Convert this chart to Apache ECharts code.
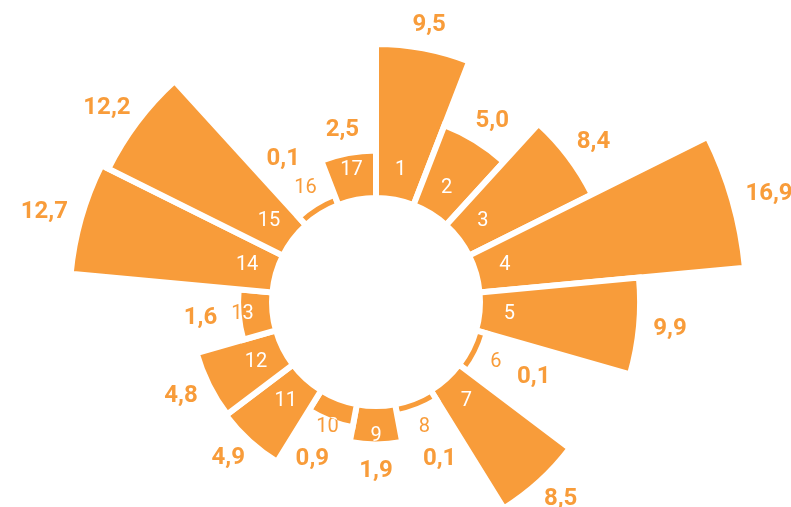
<!DOCTYPE html>
<html>
<head>
<meta charset="utf-8">
<script src="https://cdn.jsdelivr.net/npm/echarts@6/dist/echarts.min.js"></script>
<style>
html,body{margin:0;padding:0;background:#fff;}
#chart{width:791px;height:507px;}
</style>
</head>
<body>
<div id="chart"></div>
<script>
// ---- data ----
const categories = ['1','2','3','4','5','6','7','8','9','10','11','12','13','14','15','16','17'];
const values = [9.5, 5.0, 8.4, 16.9, 9.9, 0.1, 8.5, 0.1, 1.9, 0.9, 4.9, 4.8, 1.6, 12.7, 12.2, 0.1, 2.5];

// ---- style ----
const ORANGE = '#f89c3a';
const BORDER = 6;
const NUM_R = 134;
const PAD = 17.5;
const MIN_BASE = 142;
const NUM_FONT = '400 20px Roboto';
const VAL_FONT = '700 24px Roboto';

const ctx = document.createElement('canvas').getContext('2d');
function textWidth(t, font){ ctx.font = font; return ctx.measureText(t).width; }
function fmt(v){ return v.toFixed(1).replace('.', ','); }

const chart = echarts.init(document.getElementById('chart'), null, {renderer:'canvas'});
const maxV = Math.max.apply(null, values);

function geom(params, api){
  const v = api.value(0), i = api.value(1);
  const cs = params.coordSys;
  const cx = cs.cx, cy = cs.cy;
  const p = api.coord([v, i]);
  const dx = p[0]-cx, dy = p[1]-cy;
  const r = Math.hypot(dx, dy);
  const phi = Math.atan2(dy, dx);
  return {v:v, i:i, cx:cx, cy:cy, r0:cs.r0, r:r, phi:phi, hw:Math.PI/categories.length};
}

function renderBars(params, api){
  const g = geom(params, api);
  return {
    type:'sector',
    shape:{cx:g.cx, cy:g.cy, r0:g.r0, r:g.r, startAngle:g.phi-g.hw, endAngle:g.phi+g.hw, clockwise:true},
    style:{fill:ORANGE, stroke:'#ffffff', lineWidth:BORDER}
  };
}

function renderLabels(params, api){
  const g = geom(params, api);
  const cx = g.cx, cy = g.cy, phi = g.phi, hw = g.hw;
  const rOut = g.r - BORDER/2;
  const ux = Math.cos(phi), uy = Math.sin(phi);
  const r0v = g.r0 + BORDER/2;
  const nx = cx + NUM_R*ux, ny = cy + NUM_R*uy;
  const label = categories[g.i];
  const vt = fmt(values[g.i]);
  const halfW = textWidth(vt, VAL_FONT)/2, halfH = 9;
  const R = Math.max(rOut, MIN_BASE) + PAD;
  const lx = cx + R*ux + halfW*ux, ly = cy + R*uy + halfH*uy;
  return {
    type: 'group',
    children: [
      {type:'text', x:nx, y:ny, style:{text:label, font:NUM_FONT, fill:ORANGE, align:'center', verticalAlign:'middle'}},
      {type:'group', clipPath:{type:'sector', shape:{cx:cx, cy:cy, r0:r0v, r:rOut, startAngle:phi-hw, endAngle:phi+hw, clockwise:true}},
        children:[{type:'text', x:nx, y:ny, style:{text:label, font:NUM_FONT, fill:'#ffffff', align:'center', verticalAlign:'middle'}}]},
      {type:'text', x:lx, y:ly, style:{text:vt, font:VAL_FONT, fill:ORANGE, align:'center', verticalAlign:'middle'}}
    ]
  };
}

const pairs = values.map(function(v,i){ return [v, i]; });

chart.setOption({
  animation:false,
  backgroundColor:'#ffffff',
  polar:{center:[376, 302], radius:[104, 370.5]},
  angleAxis:{type:'category', data:categories, startAngle:90, clockwise:true,
    axisLine:{show:false}, axisTick:{show:false}, axisLabel:{show:false}, splitLine:{show:false}},
  radiusAxis:{type:'value', min:-0.63, max:maxV, show:false,
    axisLine:{show:false}, axisTick:{show:false}, axisLabel:{show:false}, splitLine:{show:false}},
  series:[
    {type:'custom', coordinateSystem:'polar', z:2, silent:true,
      data:pairs, encode:{radius:0, angle:1}, renderItem:renderBars},
    {type:'custom', coordinateSystem:'polar', z:5, silent:true,
      data:pairs, encode:{radius:0, angle:1}, renderItem:renderLabels}
  ]
});
</script>
</body>
</html>
